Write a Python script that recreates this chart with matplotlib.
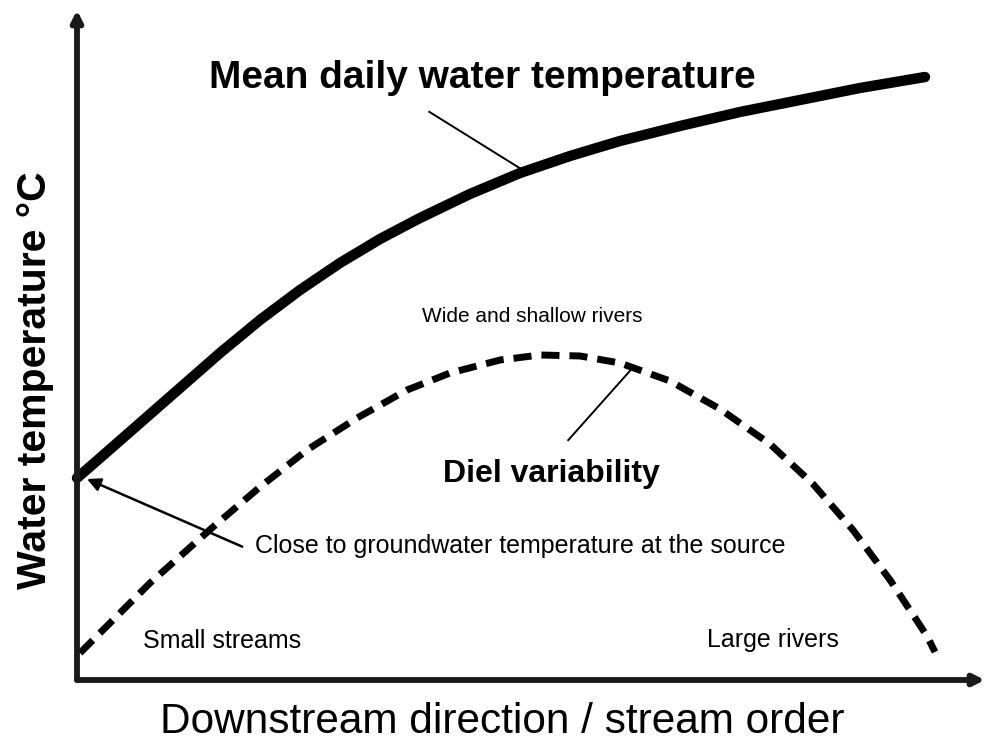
import matplotlib
matplotlib.use("Agg")
import matplotlib.pyplot as plt

plt.rcParams['font.family'] = ['Liberation Sans', 'DejaVu Sans']

# Mean daily water temperature (solid curve)
mean_x = [0.0, 2.53, 6.94, 11.34, 15.75, 20.15, 24.56, 28.96, 33.37, 37.78,
          43.28, 48.79, 54.30, 59.80, 66.41, 73.02, 79.63, 86.23, 93.39]
mean_y = [30.15, 33.13, 38.36, 43.58, 48.81, 53.73, 58.21, 62.24, 65.82, 68.96,
          72.54, 75.67, 78.21, 80.45, 82.69, 84.78, 86.57, 88.36, 90.0]

# Diel variability (dashed curve)
diel_x = [0.33, 2.53, 8.04, 14.98, 20.15, 25.33, 30.84, 36.34, 41.08, 46.59, 50.99,
          55.40, 59.80, 65.31, 70.81, 76.32, 81.06, 85.46, 89.54, 93.61, 94.49]
diel_y = [4.03, 7.01, 14.48, 22.84, 28.81, 34.33, 39.10, 43.28, 45.82, 47.76, 48.51,
          48.36, 47.31, 44.63, 40.45, 35.22, 29.25, 22.39, 14.93, 6.57, 4.18]

title_text = "Mean daily water temperature"
diel_text = "Diel variability"
wide_text = "Wide and shallow rivers"
source_text = "Close to groundwater temperature at the source"
small_text = "Small streams"
large_text = "Large rivers"
xlabel_text = "Downstream direction / stream order"
ylabel_text = "Water temperature \u00b0C"

W, H = 987, 745
fig = plt.figure(figsize=(W / 100, H / 100), dpi=100)
x0, y0, x1, y1 = 77, 680, 985, 10
ax = fig.add_axes([x0 / W, (H - y0) / H, (x1 - x0) / W, (y0 - y1) / H])
ax.set_xlim(0, 100)
ax.set_ylim(0, 100)
ax.axis('off')

# axes with arrows
axis_kw = dict(arrowstyle='-|>', lw=4.2, color='#1a1a1a', mutation_scale=16,
               shrinkA=0, shrinkB=0)
ax.annotate('', xy=(1.0, 0), xytext=(0, 0), xycoords='axes fraction',
            textcoords='axes fraction', arrowprops=axis_kw, annotation_clip=False)
ax.annotate('', xy=(0, 1.0), xytext=(0, 0), xycoords='axes fraction',
            textcoords='axes fraction', arrowprops=axis_kw, annotation_clip=False)

lw_d = 5.0
ax.plot(mean_x, mean_y, color='black', lw=7.5, solid_capstyle='round',
        solid_joinstyle='round', clip_on=False)
ax.plot(diel_x, diel_y, color='black', lw=lw_d, dash_capstyle='butt',
        linestyle=(0, (13 / lw_d, 7.2 / lw_d)), clip_on=False)

# labels / annotations
ax.text(44.6, 88.4, title_text, fontsize=28, fontweight='bold', ha='center', va='baseline')
ax.plot([38.8, 49.0], [84.8, 76.2], color='black', lw=1.4)

ax.text(38.0, 53.4, wide_text, fontsize=15, ha='left', va='baseline')

ax.text(52.2, 29.55, diel_text, fontsize=23, fontweight='bold', ha='center', va='baseline')
ax.plot([54.1, 61.2], [35.8, 46.6], color='black', lw=1.4)

ax.text(19.6, 19.0, source_text, fontsize=18, ha='left', va='baseline')
ax.annotate('', xy=(1.1, 30.0), xytext=(18.2, 19.9),
            arrowprops=dict(arrowstyle='-|>', lw=1.8, color='black',
                            mutation_scale=20, shrinkA=0, shrinkB=0))

ax.text(7.3, 4.8, small_text, fontsize=18, ha='left', va='baseline')
ax.text(69.4, 4.9, large_text, fontsize=18, ha='left', va='baseline')

fig.text(502 / W, 1 - 722 / H, xlabel_text, fontsize=30.5, ha='center', va='center')
fig.text(35 / W, 1 - 380 / H, ylabel_text, fontsize=29.5, fontweight='bold',
         rotation=90, ha='center', va='center')

fig.savefig('out.png', dpi=100)
